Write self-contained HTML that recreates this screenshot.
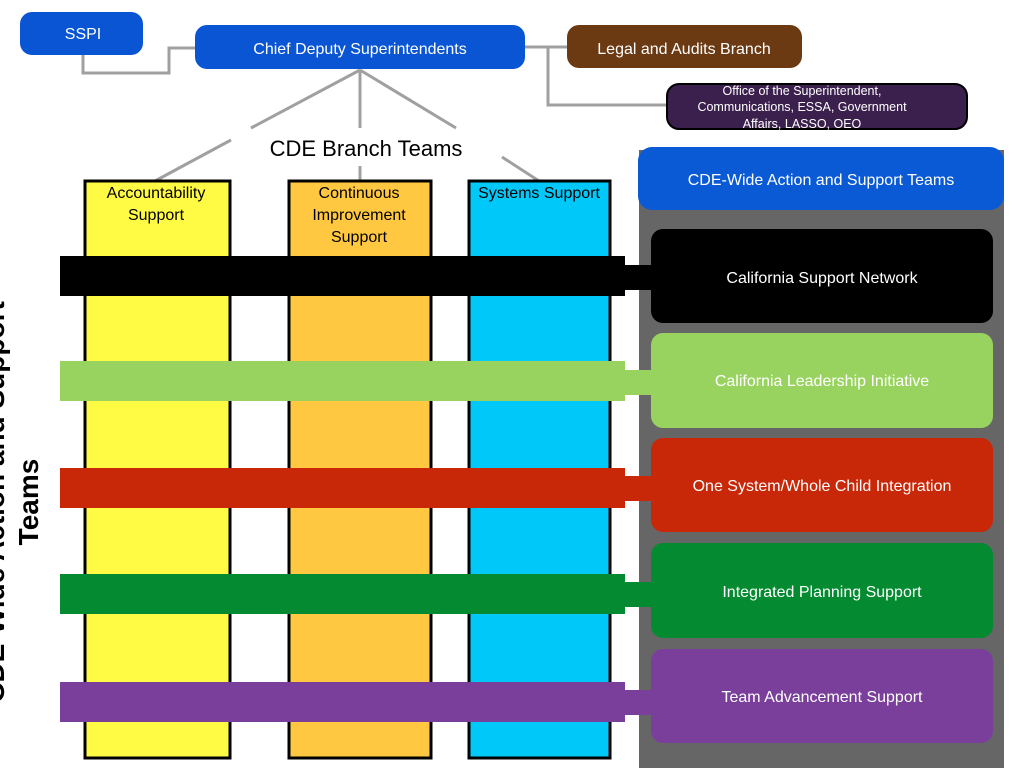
<!DOCTYPE html>
<html><head><meta charset="utf-8"><style>
html,body{margin:0;padding:0;background:#fff;}
svg{display:block;font-family:"Liberation Sans",Arial,sans-serif;}
</style></head><body>
<svg width="1024" height="768" viewBox="0 0 1024 768" xmlns="http://www.w3.org/2000/svg">
<!-- connectors -->
<g stroke="#a0a0a0" stroke-width="3" fill="none">
<polyline points="83,55 83,73 169,73 169,48 196,48"/>
<polyline points="524,47 567,47"/>
<polyline points="548,47 548,105 666,105"/>
<line x1="360" y1="70" x2="251" y2="128"/>
<line x1="360" y1="70" x2="360" y2="128"/>
<line x1="360" y1="70" x2="456" y2="128"/>
<line x1="231" y1="140" x2="155" y2="181"/>
<line x1="360" y1="166" x2="360" y2="181"/>
<line x1="502" y1="157" x2="539" y2="181"/>
</g>
<!-- top boxes -->
<rect x="20" y="12" width="123" height="43" rx="12" fill="#0a55d4"/>
<text x="83" y="39" fill="#fff" font-size="16" text-anchor="middle">SSPI</text>
<rect x="195" y="25" width="330" height="44" rx="12" fill="#0a55d4"/>
<text x="360" y="54" fill="#fff" font-size="16" text-anchor="middle">Chief Deputy Superintendents</text>
<rect x="567" y="25" width="235" height="43" rx="12" fill="#6b3a12"/>
<text x="684" y="54" fill="#fff" font-size="16" text-anchor="middle">Legal and Audits Branch</text>
<rect x="667" y="84" width="300" height="45" rx="12" fill="#3b1f4d" stroke="#000" stroke-width="2"/>
<text fill="#fff" font-size="12.5" text-anchor="middle"><tspan x="802" y="95">Office of the Superintendent,</tspan><tspan x="802" y="111">Communications, ESSA, Government</tspan><tspan x="802" y="128">Affairs, LASSO, OEO</tspan></text>
<text x="366" y="156" font-size="22" text-anchor="middle" fill="#000">CDE Branch Teams</text>
<!-- columns -->
<rect x="85" y="181" width="145" height="577" fill="#fffa44" stroke="#000" stroke-width="3"/>
<rect x="289" y="181" width="142" height="577" fill="#ffc840" stroke="#000" stroke-width="3"/>
<rect x="469" y="181" width="141" height="577" fill="#00c8f8" stroke="#000" stroke-width="3"/>
<text font-size="16" text-anchor="middle" fill="#000"><tspan x="156" y="198">Accountability</tspan><tspan x="156" y="220">Support</tspan></text>
<text font-size="16" text-anchor="middle" fill="#000"><tspan x="359" y="198">Continuous</tspan><tspan x="359" y="220">Improvement</tspan><tspan x="359" y="242">Support</tspan></text>
<text x="539" y="198" font-size="16" text-anchor="middle" fill="#000">Systems Support</text>
<!-- panel -->
<rect x="639" y="150" width="365" height="618" fill="#666"/>
<rect x="638" y="147" width="366" height="63" rx="14" fill="#0a5ad6"/>
<text x="821" y="185" fill="#fff" font-size="16" text-anchor="middle">CDE-Wide Action and Support Teams</text>
<!-- bars -->
<g>
<rect x="60" y="256" width="565" height="40" fill="#000"/><rect x="620" y="265" width="35" height="25" fill="#000"/>
<rect x="651" y="229" width="342" height="94" rx="12" fill="#000"/>
<text x="822" y="283" fill="#fff" font-size="16" text-anchor="middle">California Support Network</text>

<rect x="60" y="361" width="565" height="40" fill="#99d35f"/><rect x="620" y="370" width="35" height="25" fill="#99d35f"/>
<rect x="651" y="333" width="342" height="95" rx="12" fill="#99d35f"/>
<text x="822" y="386" fill="#fff" font-size="16" text-anchor="middle">California Leadership Initiative</text>

<rect x="60" y="468" width="565" height="40" fill="#c82808"/><rect x="620" y="476" width="35" height="25" fill="#c82808"/>
<rect x="651" y="438" width="342" height="94" rx="12" fill="#c82808"/>
<text x="822" y="491" fill="#fff" font-size="16" text-anchor="middle">One System/Whole Child Integration</text>

<rect x="60" y="574" width="565" height="40" fill="#048a30"/><rect x="620" y="582" width="35" height="25" fill="#048a30"/>
<rect x="651" y="543" width="342" height="95" rx="12" fill="#048a30"/>
<text x="822" y="597" fill="#fff" font-size="16" text-anchor="middle">Integrated Planning Support</text>

<rect x="60" y="682" width="565" height="40" fill="#7a3f9a"/><rect x="620" y="690" width="35" height="25" fill="#7a3f9a"/>
<rect x="651" y="649" width="342" height="94" rx="12" fill="#7a3f9a"/>
<text x="822" y="702" fill="#fff" font-size="16" text-anchor="middle">Team Advancement Support</text>
</g>
<!-- rotated side label -->
<text transform="translate(0,502) rotate(-90)" font-size="28" font-weight="bold" text-anchor="middle" fill="#000"><tspan x="0" y="4">CDE-Wide Action and Support</tspan><tspan x="0" y="38">Teams</tspan></text>
</svg>
</body></html>
